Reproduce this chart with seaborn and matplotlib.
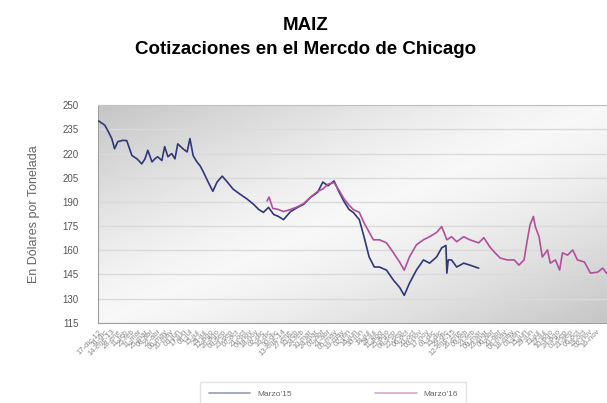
import numpy as np
import pandas as pd
import matplotlib
matplotlib.use('Agg')
import matplotlib.pyplot as plt
from matplotlib.lines import Line2D
import seaborn as sns

# Marzo'15 (U$S / t)
fechas_mar15 = ['2012-12-17', '2012-12-30', '2013-01-05', '2013-01-14', '2013-01-20',
                '2013-01-27', '2013-02-07', '2013-02-15', '2013-02-26', '2013-03-09',
                '2013-03-19', '2013-03-26', '2013-04-01', '2013-04-10', '2013-04-16',
                '2013-04-22', '2013-05-01', '2013-05-07', '2013-05-14', '2013-05-22',
                '2013-05-29', '2013-06-04', '2013-06-15', '2013-06-24', '2013-06-30',
                '2013-07-07', '2013-07-15', '2013-07-22', '2013-07-28', '2013-08-08',
                '2013-08-18', '2013-08-27', '2013-09-07', '2013-09-18', '2013-09-30',
                '2013-10-15', '2013-10-31', '2013-11-13', '2013-11-24', '2013-12-04',
                '2013-12-15', '2013-12-26', '2014-01-05', '2014-01-16', '2014-01-31',
                '2014-02-15', '2014-02-28', '2014-03-15', '2014-03-30', '2014-04-10',
                '2014-04-21', '2014-05-04', '2014-05-15', '2014-05-25', '2014-06-05',
                '2014-06-14', '2014-06-27', '2014-07-07', '2014-07-18', '2014-07-29',
                '2014-08-09', '2014-08-24', '2014-09-08', '2014-09-21', '2014-10-01',
                '2014-10-12', '2014-10-27', '2014-11-11', '2014-11-24', '2014-12-09',
                '2014-12-20', '2014-12-29', '2014-12-31', '2015-01-03', '2015-01-10',
                '2015-01-21', '2015-02-05', '2015-02-18', '2015-03-09']
precios_mar15 = [240.2, 237.6, 234.5, 229.3, 223.0,
                 227.4, 228.2, 228.0, 218.8, 216.7,
                 213.6, 216.7, 222.0, 214.8, 216.7,
                 218.0, 215.7, 224.3, 218.0, 220.0,
                 216.7, 226.0, 223.0, 221.0, 229.3,
                 218.6, 214.8, 212.3, 209.0, 202.3,
                 196.6, 202.3, 206.0, 202.3, 198.0,
                 194.8, 191.6, 188.5, 185.3, 183.5,
                 186.6, 182.2, 181.0, 179.0, 184.0,
                 186.6, 188.5, 192.9, 196.0, 202.3,
                 200.0, 203.0, 196.0, 190.4, 185.3,
                 183.5, 179.0, 168.4, 155.8, 149.6,
                 149.6, 147.7, 141.4, 137.0, 132.0,
                 139.5, 147.7, 154.0, 152.0, 155.8,
                 161.5, 163.0, 145.8, 154.0, 154.0,
                 149.6, 152.0, 150.8, 148.9]

# Marzo'16 (U$S / t)
fechas_mar16 = ['2013-12-12', '2013-12-16', '2013-12-24', '2014-01-05', '2014-01-16',
                '2014-01-31', '2014-02-15', '2014-02-28', '2014-03-15', '2014-03-30',
                '2014-04-10', '2014-04-21', '2014-05-04', '2014-05-15', '2014-05-25',
                '2014-06-05', '2014-06-14', '2014-06-27', '2014-07-07', '2014-07-27',
                '2014-08-09', '2014-08-24', '2014-09-08', '2014-09-21', '2014-10-01',
                '2014-10-12', '2014-10-27', '2014-11-11', '2014-11-24', '2014-12-09',
                '2014-12-20', '2014-12-31', '2015-01-10', '2015-01-21', '2015-02-05',
                '2015-02-18', '2015-03-09', '2015-03-20', '2015-04-02', '2015-04-13',
                '2015-04-24', '2015-05-09', '2015-05-24', '2015-06-03', '2015-06-14',
                '2015-06-21', '2015-06-27', '2015-07-04', '2015-07-08', '2015-07-16',
                '2015-07-23', '2015-08-03', '2015-08-09', '2015-08-20', '2015-08-29',
                '2015-09-04', '2015-09-15', '2015-09-26', '2015-10-06', '2015-10-21',
                '2015-11-03', '2015-11-18', '2015-11-29', '2015-12-14']
precios_mar16 = [190.6, 193.0, 186.0, 185.3, 184.0,
                 185.3, 187.0, 189.0, 193.0, 196.5,
                 198.0, 201.0, 202.0, 197.0, 192.0,
                 188.0, 185.3, 183.5, 177.0, 166.5,
                 166.5, 164.6, 158.4, 152.7, 147.7,
                 155.8, 163.4, 166.5, 168.4, 171.0,
                 174.7, 166.5, 168.4, 165.3, 168.4,
                 166.5, 164.6, 167.8, 162.0, 158.4,
                 155.2, 154.0, 154.0, 150.8, 154.0,
                 166.5, 176.0, 181.0, 174.7, 168.4,
                 155.8, 160.2, 152.0, 154.0, 147.7,
                 158.4, 157.0, 160.2, 154.0, 152.7,
                 145.8, 146.4, 148.9, 143.3]

series = ["Marzo'15", "Marzo'16"]
colores = ['#2f3779', '#b24f9c']
meses = ['ene', 'feb', 'mar', 'abr', 'may', 'jun', 'jul', 'ago', 'sep', 'oct', 'nov', 'dic']
y_ticks = [115, 130, 145, 160, 175, 190, 205, 220, 235, 250]

df = pd.concat([
    pd.DataFrame({'fecha': pd.to_datetime(fechas_mar15), 'precio': precios_mar15, 'serie': series[0]}),
    pd.DataFrame({'fecha': pd.to_datetime(fechas_mar16), 'precio': precios_mar16, 'serie': series[1]}),
])

sns.set_style('white')
plt.rcParams['font.family'] = ['Liberation Sans', 'DejaVu Sans']

fig = plt.figure(figsize=(6.07, 4.03), dpi=100)
ax = fig.add_axes([0.161, 0.199, 0.845, 0.540])

# fondo degradado gris
gx, gy = np.meshgrid(np.linspace(0, 1, 300), np.linspace(1, 0, 200))
fondo = 0.97 - 0.2 * np.abs(gx - gy) ** 1.3
ax.imshow(fondo, extent=[0, 1, 0, 1], transform=ax.transAxes, aspect='auto',
          cmap='gray', vmin=0, vmax=1, zorder=0)

for y in y_ticks:
    ax.axhline(y, color='#dadada', lw=1.0, zorder=1)

sns.lineplot(data=df, x='fecha', y='precio', hue='serie', palette=colores,
             lw=1.2, ax=ax, legend=False, zorder=3)

ax.set_xlim(pd.Timestamp('2012-12-15'), pd.Timestamp('2015-12-16'))
ax.set_ylim(115, 250)
ax.set_yticks(y_ticks)
ax.tick_params(axis='y', labelsize=7, labelcolor='#555555', length=0, pad=14)

ticks_x = pd.date_range('2012-12-17', '2015-11-16', freq='14D')
etiquetas_x = []
for i, d in enumerate(ticks_x):
    txt = f"{d.day:02d}-{meses[d.month - 1]}"
    if i == 0 or (d.month == 1 and d.day <= 14):
        txt += f"-{d.year % 100:02d}"
    etiquetas_x.append(txt)
ax.set_xticks(ticks_x)
ax.set_xticklabels(etiquetas_x, rotation=45, ha='right', rotation_mode='anchor',
                   fontsize=5.5, color='#888888')
ax.tick_params(axis='x', length=0, pad=4)

ax.set_xlabel('')
ax.set_ylabel('En Dólares por Tonelada', fontsize=9, color='#666666', labelpad=16)

for s in ['left', 'bottom']:
    ax.spines[s].set_color('#a0a0a0')
ax.spines['top'].set_color('#c0c0c0')
ax.spines['right'].set_visible(False)

fig.text(0.503, 0.937, 'MAIZ', ha='center', va='center', fontsize=13.5,
         fontweight='bold', color='black')
fig.text(0.503, 0.878, 'Cotizaciones en el Mercdo de Chicago', ha='center', va='center',
         fontsize=13.5, fontweight='bold', color='black')

handles = [Line2D([], [], color=c, lw=1.2, alpha=0.5) for c in colores]
leg = fig.legend(handles, series, loc='upper center', bbox_to_anchor=(0.549, 0.063),
                 ncol=2, fontsize=6, frameon=True, fancybox=False, edgecolor='#dddddd',
                 handlelength=5, columnspacing=10, borderpad=1.0)
for t in leg.get_texts():
    t.set_color('#666666')

plt.savefig('out.png', dpi=100)
plt.close()
